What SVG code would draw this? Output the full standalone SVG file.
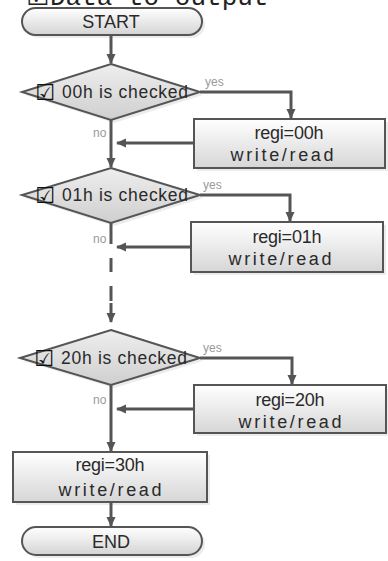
<svg xmlns="http://www.w3.org/2000/svg" width="388" height="561" viewBox="0 0 388 561">
<defs>
<linearGradient id="gBox" x1="0" y1="0" x2="0" y2="1"><stop offset="0" stop-color="#ffffff"/><stop offset="1" stop-color="#d6d6d6"/></linearGradient>
<linearGradient id="gDia" x1="0" y1="0" x2="0" y2="1"><stop offset="0" stop-color="#eeeeee"/><stop offset="1" stop-color="#cfcfcf"/></linearGradient>
<linearGradient id="gTerm" x1="0" y1="0" x2="0" y2="1"><stop offset="0" stop-color="#ffffff"/><stop offset="1" stop-color="#d4d4d4"/></linearGradient>
<marker id="arr" markerUnits="userSpaceOnUse" markerWidth="10" markerHeight="10" refX="9" refY="5" orient="auto"><path d="M0,0.5 L10,5 L0,9.5 z" fill="#555"/></marker>
<style>
.shape{stroke:#555;stroke-width:2}
.box{fill:url(#gBox)}
.dia{fill:url(#gDia)}
.term{fill:url(#gTerm)}
.shadow{fill:#ececec;stroke:none}
.t{font-family:"Liberation Sans",Arial,sans-serif;fill:#2a2a2a;text-anchor:middle}
.ck{font-family:"DejaVu Sans","Noto Sans CJK JP",sans-serif;fill:#111;font-size:22px;text-anchor:middle}
.lbl{font-family:"Liberation Sans",Arial,sans-serif;fill:#9a9a9a;font-size:12px}
.con{fill:none;stroke:#555;stroke-width:3}
.title{font-family:"Liberation Mono","DejaVu Sans Mono",monospace;fill:#222;font-size:26px}
.tck{font-family:"DejaVu Sans","Noto Sans CJK JP",sans-serif;fill:#222;font-size:26px}
</style>
</defs>
<g id="title">
<text class="tck" x="26" y="5">☑︎</text>
<text class="title" x="50" y="5">Data to output</text>
</g>

<g id="start">
<rect class="shadow" x="25" y="11" width="180" height="27" rx="13.5"/>
<rect class="shape term" x="22" y="8" width="180" height="27" rx="13.5"/>
<text class="t" x="111" y="28" font-size="18">START</text>
</g>

<g id="dec00">
<polygon class="shadow" points="114,67 203,95 114,123 25,95"/>
<polygon class="shape dia" points="111,64 200,92 111,120 22,92"/>
<text class="ck" x="45" y="100">☑︎</text>
<text class="t" x="125" y="98" font-size="17.5" textLength="126" lengthAdjust="spacing">00h is checked</text>
</g>

<g id="proc00">
<rect class="shadow" x="197" y="122" width="191" height="49"/>
<rect class="shape box" x="194" y="119" width="191" height="49"/>
<text class="t" x="289" y="139" font-size="18" textLength="69" lengthAdjust="spacing">regi=00h</text>
<text class="t" x="282" y="161" font-size="18" textLength="103" lengthAdjust="spacing">write/read</text>
</g>

<g id="dec01">
<polygon class="shadow" points="114,171 203,198 114,226 25,198"/>
<polygon class="shape dia" points="111,168 200,195 111,223 22,195"/>
<text class="ck" x="45" y="203">☑︎</text>
<text class="t" x="125" y="201" font-size="17.5" textLength="126" lengthAdjust="spacing">01h is checked</text>
</g>

<g id="proc01">
<rect class="shadow" x="194" y="225" width="192" height="50"/>
<rect class="shape box" x="191" y="222" width="192" height="50"/>
<text class="t" x="287" y="243" font-size="18" textLength="69" lengthAdjust="spacing">regi=01h</text>
<text class="t" x="280" y="265" font-size="18" textLength="103" lengthAdjust="spacing">write/read</text>
</g>

<g id="dec20">
<polygon class="shadow" points="114,333 203,361 114,388 23,361"/>
<polygon class="shape dia" points="111,330 200,358 111,385 20,358"/>
<text class="ck" x="44" y="366">☑︎</text>
<text class="t" x="124" y="364" font-size="17.5" textLength="126" lengthAdjust="spacing">20h is checked</text>
</g>

<g id="proc20">
<rect class="shadow" x="197" y="388" width="192" height="48"/>
<rect class="shape box" x="194" y="385" width="192" height="48"/>
<text class="t" x="290" y="406" font-size="18" textLength="69" lengthAdjust="spacing">regi=20h</text>
<text class="t" x="290" y="428" font-size="18" textLength="103" lengthAdjust="spacing">write/read</text>
</g>

<g id="proc30">
<rect class="shadow" x="16" y="455" width="194" height="50"/>
<rect class="shape box" x="13" y="452" width="194" height="50"/>
<text class="t" x="110" y="471" font-size="18" textLength="69" lengthAdjust="spacing">regi=30h</text>
<text class="t" x="110" y="496" font-size="18" textLength="103" lengthAdjust="spacing">write/read</text>
</g>

<g id="end">
<rect class="shadow" x="25" y="530" width="180" height="28" rx="14"/>
<rect class="shape term" x="22" y="527" width="180" height="28" rx="14"/>
<text class="t" x="111" y="548" font-size="18">END</text>
</g>

<g id="connectors">
<path class="con" d="M111,35 V63" marker-end="url(#arr)"/>
<path class="con" d="M200,92 H291 V118" marker-end="url(#arr)"/>
<path class="con" d="M194,143 H117" marker-end="url(#arr)"/>
<path class="con" d="M111,120 V167" marker-end="url(#arr)"/>
<path class="con" d="M200,195 H290 V221" marker-end="url(#arr)"/>
<path class="con" d="M191,247 H117" marker-end="url(#arr)"/>
<path class="con" d="M111,223 V244"/>
<path class="con" d="M111,258 V272"/>
<path class="con" d="M111,286 V301"/>
<path class="con" d="M111,303 V322" marker-end="url(#arr)"/>
<path class="con" d="M200,358 H292 V384" marker-end="url(#arr)"/>
<path class="con" d="M194,409 H117" marker-end="url(#arr)"/>
<path class="con" d="M111,385 V451" marker-end="url(#arr)"/>
<path class="con" d="M111,502 V526" marker-end="url(#arr)"/>
<text class="lbl" x="205" y="86">yes</text>
<text class="lbl" x="93" y="137">no</text>
<text class="lbl" x="203" y="189">yes</text>
<text class="lbl" x="93" y="243">no</text>
<text class="lbl" x="203" y="352">yes</text>
<text class="lbl" x="93" y="404">no</text>
</g>
</svg>
